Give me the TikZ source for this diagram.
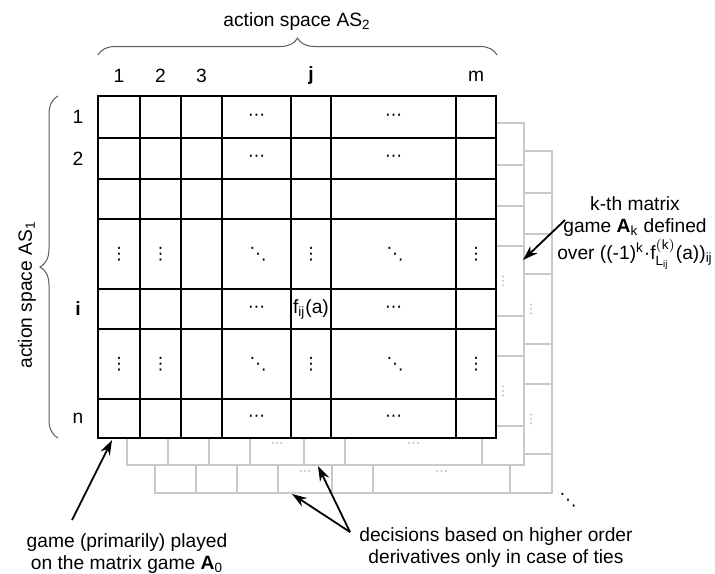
\documentclass[tikz,border=0pt]{standalone}
\usepackage{fontspec}
\setmainfont{Liberation Sans}
\setmathsf{Liberation Sans}
\newfontfamily\dotsfont{DejaVu Sans}
\usetikzlibrary{decorations.pathreplacing,arrows.meta}
\definecolor{sheet}{RGB}{200,200,200}
\definecolor{sheetdots}{RGB}{170,170,170}
\definecolor{bracecol}{RGB}{90,90,90}
\begin{document}
\begin{tikzpicture}[x=0.5pt,y=-0.5pt,
  font=\fontsize{9.6}{11}\selectfont,
  grid/.style={line width=1.25pt, draw=black},
  ggrid/.style={line width=1pt, draw=sheet},
  gdots/.style={text=sheetdots, inner sep=0pt, font=\dotsfont\fontsize{6.5}{6.5}\selectfont},
  cell/.style={inner sep=0pt, font=\dotsfont\fontsize{8.5}{8.5}\selectfont},
  bracket/.style={decorate, draw=bracecol, line width=0.5pt},
  pointer/.style={line width=0.9pt, -{Stealth[length=7.5pt,width=5pt]}},
  label/.style={align=center, inner sep=0pt}]
\useasboundingbox (0,0) rectangle (715,573);

% stacked derivative matrices behind the front one
\foreach \ox/\oy/\nm in {155/151/third, 127/123/second}{
  \begin{scope}[shift={(\ox,\oy)}]
    \fill[white] (0,0) rectangle (397,342);
    \foreach \gx in {41,81.5,123,177,218,355} \draw[ggrid] (\gx,0) -- (\gx,342);
    \foreach \gy in {42,83,123,193,233,303} \draw[ggrid] (0,\gy) -- (397,\gy);
    \draw[ggrid] (0,0) rectangle (397,342);
    \node[gdots] (\nm-r4) at (376,158) {⋮};
    \node[gdots] (\nm-r6) at (376,268) {⋮};
    \node[gdots] (\nm-b4) at (150,322) {⋯};
    \node[gdots] (\nm-b6) at (286.5,322) {⋯};
  \end{scope}
}

% front matrix A_0
\fill[white] (98,96) rectangle (496,438);
\foreach \gx in {140,181,222,291,331,456} \draw[grid] (\gx,96) -- (\gx,438);
\foreach \gy in {138,179,219,289,329,399} \draw[grid] (98,\gy) -- (496,\gy);
\draw[grid] (98,96) rectangle (496,438);

% cell entries
\foreach \ry/\rn in {117/1,158.5/2,309/5,418.5/7}{
  \node[cell] (c4-\rn) at (256.5,\ry) {⋯};
  \node[cell] (c6-\rn) at (393.5,\ry) {⋯};
}
\foreach \ry/\rn in {254/4,364/6}{
  \node[cell] (c1-\rn) at (119,\ry) {⋮};
  \node[cell] (c2-\rn) at (160.5,\ry) {⋮};
  \node[cell] (c4-\rn) at (258,\ry) {⋱};
  \node[cell] (c5-\rn) at (311,\ry) {⋮};
  \node[cell] (c6-\rn) at (395,\ry) {⋱};
  \node[cell] (c7-\rn) at (476,\ry) {⋮};
}
\node[inner sep=0pt] (fij) at (311,309) {f\textsubscript{ij}(a)};

% column and row indices
\node (col1) at (119,76) {1};
\node (col2) at (160.5,76) {2};
\node (col3) at (201.5,76) {3};
\node (colj) at (311,76) {\textbf{j}};
\node (colm) at (476,76) {m};
\node (row1) at (78,117) {1};
\node (row2) at (78,158.5) {2};
\node (rowi) at (78,309) {\textbf{i}};
\node (rown) at (78,418.5) {n};

% action spaces
\draw[bracket, decoration={brace, amplitude=8.5pt}] (98,55) -- (497,55);
\node (as2) at (297,22) {action space AS\textsubscript{2}};
\draw[bracket, decoration={brace, amplitude=9pt}] (58,438) -- (58,96);
\node[rotate=90] (as1) at (27,295) {action space AS\textsubscript{1}};

% more matrices follow
\node[cell] (more) at (568,500) {⋱};

% annotations
\node[label] (kth) at (635,233) {k-th matrix\\game \textbf{A}\textsubscript{k} defined\\over ((-1)\textsuperscript{k}·f$_{\mathsf{L}_{\mathsf{ij}}}^{\mathsf{(k)}}$(a))\textsubscript{ij}};
\node[label] (played) at (127,554) {game (primarily) played\\on the matrix game \textbf{A}\textsubscript{0}};
\node[label] (ties) at (496,547.5) {decisions based on higher order\\derivatives only in case of ties};

\coordinate (kthFrom) at (565,220);
\coordinate (kthTo) at (523,260);
\coordinate (playFrom) at (72,520);
\coordinate (playTo) at (112,440);
\coordinate (tiesFrom) at (350,532);
\coordinate (tiesTo1) at (318,466);
\coordinate (tiesTo2) at (292,494);

\draw[pointer] (kthFrom) -- (kthTo);
\draw[pointer] (playFrom) -- (playTo);
\draw[pointer] (tiesFrom) -- (tiesTo1);
\draw[pointer] (tiesFrom) -- (tiesTo2);
\end{tikzpicture}
\end{document}
